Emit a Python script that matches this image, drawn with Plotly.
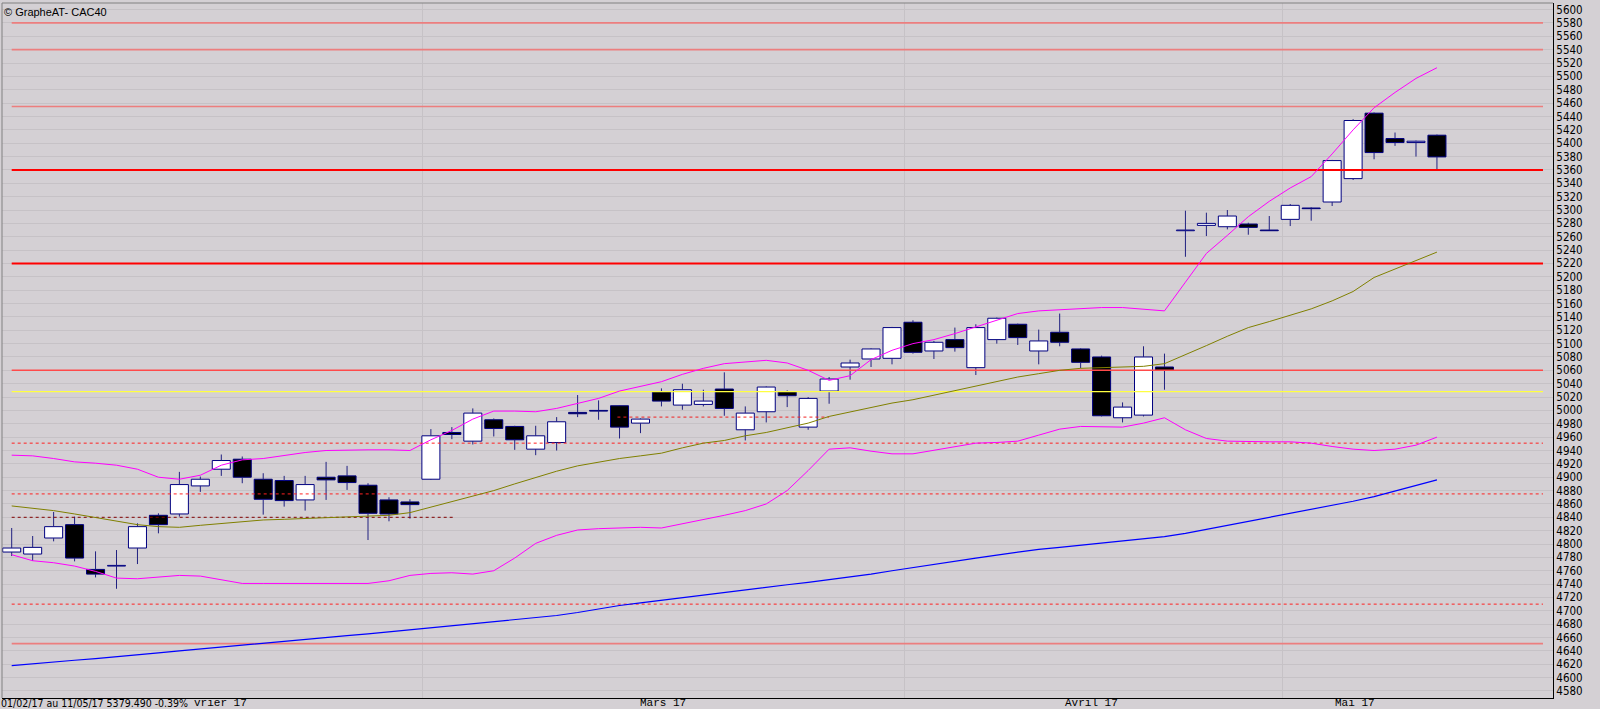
import plotly.graph_objects as go

# ---- OHLC data (01/02/17 .. 11/05/17, 69 sessions) ----
opens = [4788, 4785, 4809, 4829, 4762, 4767, 4794, 4843, 4845, 4887,
         4912, 4927, 4897, 4895, 4866, 4900, 4902, 4888, 4866, 4863,
         4897, 4967, 4954, 4986, 4976, 4942, 4952, 4997, 5000, 5007,
         4981, 5028, 5008, 5009, 5032, 4971, 4998, 5028, 4975, 5029,
         5065, 5077, 5078, 5132, 5089, 5106, 5064, 5106, 5129, 5089,
         5117, 5092, 5080, 4989, 4993, 5065, 5269, 5277, 5275, 5279,
         5270, 5286, 5303, 5312, 5347, 5445, 5407, 5401, 5412]
highs = [4824, 4812, 4848, 4841, 4789, 4791, 4831, 4846, 4908, 4901,
         4934, 4931, 4906, 4902, 4902, 4923, 4917, 4891, 4870, 4867,
         4972, 4975, 5003, 4988, 4977, 4977, 4990, 5023, 5015, 5008,
         4988, 5033, 5040, 5031, 5057, 5006, 5036, 5030, 5020, 5050,
         5076, 5093, 5125, 5135, 5104, 5124, 5129, 5139, 5130, 5121,
         5145, 5093, 5082, 5012, 5096, 5085, 5299, 5296, 5300, 5281,
         5291, 5309, 5304, 5375, 5436, 5446, 5416, 5404, 5413]
lows = [4782, 4775, 4804, 4774, 4750, 4733, 4770, 4816, 4841, 4878,
        4902, 4891, 4844, 4856, 4850, 4866, 4881, 4806, 4834, 4838,
        4896, 4957, 4949, 4961, 4941, 4933, 4940, 4990, 4986, 4958,
        4966, 5006, 5001, 5006, 4992, 4955, 4982, 5005, 4971, 5010,
        5046, 5065, 5069, 5085, 5077, 5088, 5053, 5100, 5098, 5069,
        5096, 5063, 4991, 4982, 4991, 5031, 5230, 5261, 5271, 5263,
        5269, 5276, 5284, 5306, 5345, 5376, 5396, 5380, 5359]
closes = [4794, 4795, 4826, 4779, 4755, 4768, 4826, 4829, 4889, 4897,
          4925, 4900, 4867, 4865, 4889, 4896, 4892, 4846, 4845, 4859,
          4962, 4964, 4996, 4973, 4956, 4962, 4983, 4995, 4999, 4975,
          4987, 5014, 5031, 5014, 5003, 4996, 5035, 5022, 5018, 5047,
          5071, 5092, 5124, 5087, 5102, 5094, 5124, 5138, 5109, 5104,
          5102, 5072, 4992, 5005, 5080, 5060, 5270, 5280, 5291, 5274,
          5269, 5307, 5302, 5374, 5434, 5386, 5401, 5403, 5379.49]

# ---- indicators, read at each session ----
bb_upper = [4933, 4932, 4928, 4923, 4921, 4918, 4912, 4900, 4897, 4903,
            4918, 4926, 4928, 4933, 4937, 4940, 4941, 4941, 4941, 4940,
            4956, 4970, 4987, 4999, 4999, 4998, 5003, 5010, 5018, 5029,
            5036, 5043, 5054, 5063, 5070, 5073, 5075, 5071, 5060, 5045,
            5052, 5076, 5090, 5100, 5106, 5115, 5125, 5136, 5145, 5149,
            5151, 5153, 5154, 5154, 5152, 5149, 5192, 5235, 5262, 5290,
            5313, 5333, 5350, 5384, 5420, 5453, 5476, 5497, 5513]
bb_lower = [4784, 4775, 4772, 4767, 4759, 4749, 4748, 4751, 4753, 4752,
            4746, 4741, 4741, 4741, 4741, 4741, 4741, 4741, 4745, 4753,
            4756, 4757, 4755, 4760, 4779, 4801, 4813, 4821, 4823, 4824,
            4825, 4824, 4830, 4836, 4843, 4850, 4860, 4880, 4910, 4942,
            4944, 4939, 4935, 4935, 4940, 4946, 4951, 4952, 4954, 4963,
            4972, 4976, 4976, 4975, 4981, 4989, 4971, 4958, 4954, 4953,
            4953, 4953, 4951, 4946, 4942, 4940, 4942, 4948, 4960]
ma20 = [4857, 4854, 4850, 4845, 4840, 4834, 4829, 4826, 4825, 4828,
        4831, 4834, 4836, 4837, 4838, 4839, 4840, 4841, 4843, 4847,
        4855, 4864, 4872, 4880, 4890, 4900, 4909, 4917, 4923, 4928,
        4932, 4936, 4944, 4951, 4955, 4962, 4967, 4974, 4981, 4991,
        4998, 5004, 5011, 5016, 5023, 5030, 5036, 5043, 5050, 5055,
        5060, 5063, 5064, 5064, 5066, 5070, 5083, 5097, 5111, 5124,
        5133, 5142, 5152, 5164, 5178, 5199, 5212, 5224, 5237]
ma_long = [4618, 4621, 4623.5, 4626, 4628.5, 4631, 4633.5, 4637, 4640, 4643,
           4645.5, 4648, 4651, 4654, 4657, 4660, 4663, 4665.5, 4668.5, 4671.5,
           4674.5, 4677.5, 4680.5, 4683.5, 4686.5, 4689.5, 4693, 4697.5, 4703, 4708,
           4712, 4716, 4719.5, 4723, 4727, 4731, 4735, 4739, 4742.5, 4746.5,
           4750.5, 4755, 4760, 4765, 4770, 4774.5, 4779, 4783.5, 4788, 4792,
           4795, 4798, 4801, 4804, 4807, 4811, 4816, 4822, 4828, 4834,
           4839, 4845, 4851, 4857.5, 4864, 4871, 4879, 4887, 4896]

# ---- horizontal levels ----
levels_light = [5580, 5540, 5455, 4651]
levels_strong = [5360, 5220]
levels_mid = [5060]
levels_yellow = [5028]
levels_dashed = [4951, 4875, 4710]
short_levels = [4840, 4990]
short_from = [0, 28.9]
short_to = [21.1, 39.0]

# month labels as they appear (the first one is partly hidden by the info text)
month_labels = ["vrier 17", "Mars 17", "Avril 17", "Mai 17"]
month_label_pos = [8.66, 31.07, 51.54, 64.09]
month_label_anchor = ["left", "center", "center", "center"]
month_bounds = [19.62, 42.62, 60.62]
y_ticks = list(range(4580, 5601, 20))
info_text = "01/02/17 au 11/05/17 5379.490 -0.39%"
title_text = "© GrapheAT- CAC40"

BG = "#D4D0D4"
GRID = "#C6C2C6"
NAVY = "#000080"
LEVEL_END = 73.06

n = len(opens)
idx = list(range(n))
body_base = [min(o, c) for o, c in zip(opens, closes)]
body_h = [abs(c - o) for o, c in zip(opens, closes)]
body_col = ["white" if c >= o else "black" for o, c in zip(opens, closes)]

fig = go.Figure()

# wicks (outside body only)
wx, wy = [], []
for i in idx:
    top = max(opens[i], closes[i])
    bot = min(opens[i], closes[i])
    if highs[i] > top:
        wx += [i, i, None]
        wy += [top, highs[i], None]
    if lows[i] < bot:
        wx += [i, i, None]
        wy += [lows[i], bot, None]
fig.add_trace(go.Scatter(x=wx, y=wy, mode="lines",
                         line=dict(color="#202080", width=1), hoverinfo="skip"))

fig.add_trace(go.Bar(x=idx, y=body_h, base=body_base, width=0.86,
                     marker=dict(color=body_col, line=dict(color=NAVY, width=1))))


def hline(v, color, width, dash="solid", x0=0, x1=LEVEL_END):
    fig.add_trace(go.Scatter(x=[x0, x1], y=[v, v], mode="lines",
                             line=dict(color=color, width=width, dash=dash),
                             hoverinfo="skip"))


for v in levels_light:
    hline(v, "#EC7E7E", 1.7)
for v in levels_strong:
    hline(v, "#FF0000", 2)
for v in levels_mid:
    hline(v, "#FF4A4A", 1.5)
for v in levels_yellow:
    hline(v, "#FFFF40", 1.2)
for v in levels_dashed:
    hline(v, "#FF2020", 1, "3px,3px")
hline(short_levels[0], "#800000", 1, "3px,3px", short_from[0], short_to[0])
hline(short_levels[1], "#F02020", 1, "3px,3px", short_from[1], short_to[1])

# indicators
fig.add_trace(go.Scatter(x=idx, y=ma_long, mode="lines", line=dict(color="#0000FF", width=1.2)))
fig.add_trace(go.Scatter(x=idx, y=ma20, mode="lines", line=dict(color="#808000", width=1)))
fig.add_trace(go.Scatter(x=idx, y=bb_lower, mode="lines", line=dict(color="#FF00FF", width=1)))
fig.add_trace(go.Scatter(x=idx, y=bb_upper, mode="lines", line=dict(color="#FF00FF", width=1)))

annotations = []
for lab, pos, anc in zip(month_labels, month_label_pos, month_label_anchor):
    annotations.append(dict(x=pos, xref="x", xanchor=anc, y=0, yref="paper", yanchor="middle",
                            yshift=-5, text=lab, showarrow=False, borderpad=0,
                            font=dict(family="Liberation Mono, Courier New, monospace",
                                      size=11, color="black")))
annotations.append(dict(x=0, xref="paper", xanchor="left", xshift=-2, y=0, yref="paper",
                        yanchor="middle", yshift=-5, text=info_text, showarrow=False,
                        borderpad=0,
                        font=dict(family="Liberation Sans Narrow, Arial Narrow, DejaVu Sans Condensed, sans-serif",
                                  size=10.5, color="black")))
annotations.append(dict(x=0, xref="paper", xanchor="left", xshift=0, y=1, yref="paper",
                        yanchor="top", yshift=-1, text=title_text, showarrow=False,
                        font=dict(family="Liberation Sans, Arial, sans-serif", size=11, color="black")))

fig.update_layout(
    width=1600, height=709,
    margin=dict(l=2, r=47, t=3, b=11, autoexpand=False),
    paper_bgcolor=BG, plot_bgcolor=BG,
    showlegend=False,
    annotations=annotations,
    xaxis=dict(range=[-0.4628, 73.537], tickvals=month_bounds, showticklabels=False,
               showgrid=True, gridcolor=GRID, gridwidth=1, zeroline=False, automargin=False,
               showline=True, linecolor="black", linewidth=1, ticks="", fixedrange=True),
    yaxis=dict(range=[4569.5, 5609.9], side="right", tickvals=y_ticks,
               showgrid=True, gridcolor=GRID, gridwidth=1, zeroline=False, automargin=False,
               showline=True, linecolor="black", linewidth=1, ticks="",
               tickfont=dict(family="Liberation Sans Narrow, Arial Narrow, DejaVu Sans Condensed, sans-serif",
                             size=11.5, color="black"), fixedrange=True),
    shapes=[
        dict(type="line", xref="paper", yref="paper", x0=0, x1=1, y0=1, y1=1,
             line=dict(color="#808080", width=1)),
        dict(type="line", xref="paper", yref="paper", x0=0, x1=0, y0=0, y1=1,
             line=dict(color="#808080", width=1)),
    ],
)

fig.write_html("out.html", config={"displayModeBar": False},
               post_script="document.body.style.margin='0px';document.body.style.background='#D4D0D4';")
